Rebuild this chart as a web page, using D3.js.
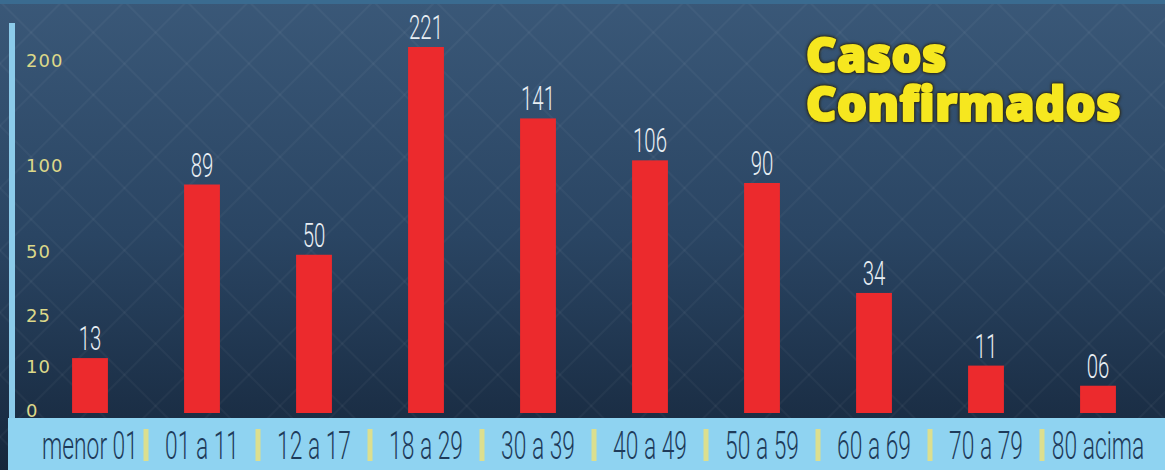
<!DOCTYPE html>
<html><head><meta charset="utf-8">
<script src="https://cdn.jsdelivr.net/npm/d3@7"></script>
<style>html,body{margin:0;padding:0;background:#1d3350;overflow:hidden}</style>
</head><body><svg id="c" width="1165" height="470"></svg>
<script>
const categories = ["menor 01","01 a 11","12 a 17","18 a 29","30 a 39","40 a 49","50 a 59","60 a 69","70 a 79","80 acima"];
const values = [13,89,50,221,141,106,90,34,11,6];
const valueLabels = ["13","89","50","221","141","106","90","34","11","06"];
const yTicks = [0,10,25,50,100,200];
const titleLines = ["Casos","Confirmados"];

const W = 1165, H = 470;
const svg = d3.select("#c");
const defs = svg.append("defs");

const bg = defs.append("linearGradient").attr("id","bg").attr("x1",0).attr("y1",0).attr("x2",0).attr("y2",1);
bg.append("stop").attr("offset","0").attr("stop-color","#3a5878");
bg.append("stop").attr("offset","0.5").attr("stop-color","#2a4563");
bg.append("stop").attr("offset","1").attr("stop-color","#16273c");

const pat = defs.append("pattern").attr("id","hatch").attr("patternUnits","userSpaceOnUse")
  .attr("width",44).attr("height",44).attr("patternTransform","rotate(45)");
pat.append("line").attr("x1",0).attr("y1",0).attr("x2",44).attr("y2",0).attr("stroke","rgba(255,255,255,0.035)").attr("stroke-width",4);
pat.append("line").attr("x1",0).attr("y1",0).attr("x2",0).attr("y2",44).attr("stroke","rgba(255,255,255,0.035)").attr("stroke-width",4);

svg.append("rect").attr("width",W).attr("height",H).attr("fill","url(#bg)");
svg.append("rect").attr("width",W).attr("height",H).attr("fill","url(#hatch)");
svg.append("rect").attr("width",W).attr("height",4).attr("fill","#3a6b90");

const baseY = 413;
const x = d3.scaleBand().domain(categories).range([34,1154]).paddingInner(0.68).paddingOuter(0.34);
const y = d3.scaleSymlog().constant(40).domain([0, d3.max(values)]).range([baseY, 47]);

// bottom band
const bandTop = 418;
svg.append("rect").attr("x",8).attr("y",bandTop).attr("width",W-8).attr("height",H-bandTop).attr("fill","#8fd3f1");
// left vertical line
svg.append("rect").attr("x",9).attr("y",23).attr("width",6).attr("height",bandTop-23).attr("fill","#8ccbea");

// y tick labels
svg.append("g").selectAll("text").data(yTicks).join("text")
  .attr("x",26).attr("y",d=>y(d)).attr("dy","0.2em")
  .attr("font-family","DejaVu Sans").attr("font-size",18).attr("letter-spacing",1)
  .attr("fill","#dcd889").text(d=>d);

// bars
svg.append("g").selectAll("rect").data(values).join("rect")
  .attr("x",(d,i)=>x(categories[i])).attr("y",d=>y(d))
  .attr("width",x.bandwidth()).attr("height",d=>y(0)-y(d))
  .attr("fill","#ec2a2d");

// value labels
svg.append("g").selectAll("text").data(values).join("text")
  .attr("transform",(d,i)=>`translate(${x(categories[i])+x.bandwidth()/2},${y(d)-8}) scale(0.6,1)`)
  .attr("text-anchor","middle").attr("font-family","Roboto").attr("font-weight",300)
  .attr("font-size",34).attr("fill","#e8eef3").text((d,i)=>valueLabels[i]);

// category labels
svg.append("g").selectAll("text").data(categories).join("text")
  .attr("transform",d=>`translate(${x(d)+x.bandwidth()/2},459) scale(0.6,1)`)
  .attr("text-anchor","middle").attr("font-family","Roboto").attr("font-weight",300)
  .attr("font-size",38).attr("fill","#1e3b5a").text(d=>d);

// separators
svg.append("g").selectAll("rect").data(categories.slice(1)).join("rect")
  .attr("x",d=>x(d)-x.step()*x.paddingInner()/2-2.5).attr("y",429)
  .attr("width",5).attr("height",32).attr("fill","#dcdf8e");

// title: one text element, dark outline under a fattened yellow fill
const title = svg.append("text")
  .attr("font-family","Open Sans").attr("font-weight",800).attr("font-size",47)
  .attr("letter-spacing",0.5)
  .attr("fill","#f6e71f").attr("stroke","#f6e71f").attr("stroke-width",2.2)
  .attr("stroke-linejoin","round")
  .style("filter","drop-shadow(0 0 1.5px #2a2612) drop-shadow(0 0 1px #2a2612)");
title.selectAll("tspan").data(titleLines).join("tspan")
  .attr("x",806).attr("y",(d,i)=>72+i*49).text(d=>d);
</script></body></html>
